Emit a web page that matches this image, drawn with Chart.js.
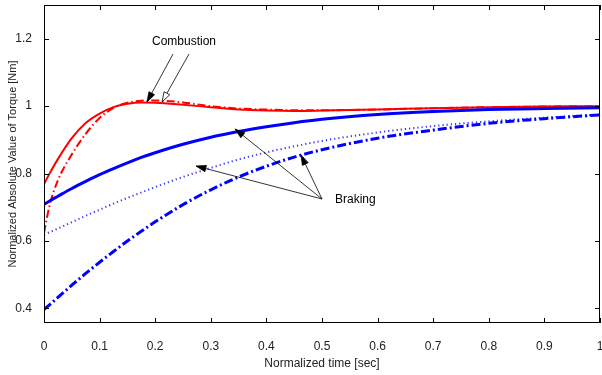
<!DOCTYPE html>
<html>
<head>
<meta charset="utf-8">
<script src="https://cdn.jsdelivr.net/npm/chart.js@4.4.0/dist/chart.umd.min.js"></script>
<style>
    html, body { margin: 0; padding: 0; background: #fff; }
    #wrap { width: 602px; height: 375px; }
</style>
</head>
<body>
<div id="wrap"><canvas id="torque-chart" width="602" height="375"></canvas></div>
<script>
// Normalized time samples
const timeVals = [0, 0.01, 0.025, 0.05, 0.075, 0.1, 0.125, 0.15, 0.175, 0.2, 0.25, 0.3, 0.35, 0.4, 0.45, 0.5, 0.6, 0.7, 0.8, 0.9, 1.0];

// Combustion curves (red)
const combSolid  = [0.769, 0.8, 0.843, 0.905, 0.95, 0.978, 0.997, 1.007, 1.011, 1.01, 1.004, 0.997, 0.99, 0.987, 0.986, 0.987, 0.99, 0.994, 0.997, 0.999, 1.0];
const combDashed = [0.624, 0.705, 0.78, 0.857, 0.918, 0.965, 0.995, 1.01, 1.016, 1.017, 1.011, 1.0, 0.993, 0.99, 0.988, 0.988, 0.99, 0.994, 0.997, 0.999, 1.0];

// Braking curves (blue)
const brakeSolid   = [0.709, 0.719, 0.733, 0.756, 0.777, 0.797, 0.815, 0.832, 0.848, 0.862, 0.887, 0.908, 0.925, 0.939, 0.951, 0.961, 0.975, 0.984, 0.99, 0.993, 0.995];
const brakeDotted  = [0.619, 0.626, 0.637, 0.656, 0.675, 0.693, 0.711, 0.728, 0.744, 0.76, 0.79, 0.817, 0.842, 0.863, 0.881, 0.897, 0.922, 0.941, 0.955, 0.966, 0.975];
const brakeDashDot = [0.397, 0.411, 0.433, 0.469, 0.504, 0.537, 0.569, 0.6, 0.629, 0.657, 0.708, 0.752, 0.79, 0.822, 0.849, 0.871, 0.905, 0.929, 0.949, 0.963, 0.974];

// Tick labels
const xTicks = [0, 0.1, 0.2, 0.3, 0.4, 0.5, 0.6, 0.7, 0.8, 0.9, 1];
const yTicks = [0.4, 0.6, 0.8, 1, 1.2];

const FONT = "'Liberation Sans', Arial, Helvetica, sans-serif";

function toPoints(ys) {
    return timeVals.map((t, i) => ({ x: t, y: ys[i] }));
}

// no automatic label padding, the layout is fixed
function noScalePadding(scale) {
    scale.paddingLeft = 0;
    scale.paddingRight = 0;
    scale.paddingTop = 0;
    scale.paddingBottom = 0;
}

// draws a line with an arrow head at (x2, y2)
function arrow(ctx, x1, y1, x2, y2, open) {
    const ang = Math.atan2(y2 - y1, x2 - x1);
    const len = 10, half = 3.2;
    const bx = x2 - len * Math.cos(ang), by = y2 - len * Math.sin(ang);
    ctx.beginPath();
    ctx.moveTo(x1, y1);
    ctx.lineTo(open ? bx : x2 - 2 * Math.cos(ang), open ? by : y2 - 2 * Math.sin(ang));
    ctx.stroke();
    ctx.beginPath();
    ctx.moveTo(x2, y2);
    ctx.lineTo(bx + half * Math.sin(ang), by - half * Math.cos(ang));
    ctx.lineTo(bx - half * Math.sin(ang), by + half * Math.cos(ang));
    ctx.closePath();
    ctx.fillStyle = open ? "#fff" : "#000";
    ctx.fill();
    ctx.stroke();
}

// Frame, inward ticks and the text arrows
const framePlugin = {
    id: "frame",
    afterDatasetsDraw(chart) {
        const ctx = chart.ctx;
        const a = chart.chartArea;
        const xs = chart.scales.x, ys = chart.scales.y;
        ctx.save();
        ctx.strokeStyle = "#000";
        ctx.lineWidth = 1;
        ctx.strokeRect(a.left + 0.5, a.top + 0.5, a.right - a.left - 1, a.bottom - a.top - 1);
        ctx.beginPath();
        xTicks.forEach(v => {
            const px = Math.round(xs.getPixelForValue(v)) + 0.5;
            ctx.moveTo(px, a.bottom); ctx.lineTo(px, a.bottom - 5);
            ctx.moveTo(px, a.top); ctx.lineTo(px, a.top + 5);
        });
        yTicks.forEach(v => {
            const py = Math.round(ys.getPixelForValue(v)) + 0.5;
            ctx.moveTo(a.left, py); ctx.lineTo(a.left + 5, py);
            ctx.moveTo(a.right, py); ctx.lineTo(a.right - 5, py);
        });
        ctx.stroke();

        // annotations
        ctx.fillStyle = "#000";
        ctx.font = "12px " + FONT;
        ctx.textAlign = "left";
        ctx.textBaseline = "middle";
        ctx.fillText("Combustion", 152, 42);
        ctx.fillText("Braking", 335, 200);
        ctx.lineWidth = 0.8;
        arrow(ctx, 173, 54, 147, 102, false);
        arrow(ctx, 189, 54, 162, 102, true);
        arrow(ctx, 322, 199, 235, 129, false);
        arrow(ctx, 322, 199, 301, 155, false);
        arrow(ctx, 322, 199, 196, 166, false);
        ctx.restore();
    }
};

const ctx = document.getElementById("torque-chart").getContext("2d");
const torqueChart = new Chart(ctx, {
    type: "line",
    data: {
        datasets: [
            {
                label: "Braking dash-dot",
                data: toPoints(brakeDashDot),
                borderColor: "#0000ff",
                borderWidth: 3,
                borderDash: [9, 3, 2, 3],
            },
            {
                label: "Braking dotted",
                data: toPoints(brakeDotted),
                borderColor: "#3535ff",
                borderWidth: 2,
                borderDash: [1.2, 3],
            },
            {
                label: "Braking solid",
                data: toPoints(brakeSolid),
                borderColor: "#0000ff",
                borderWidth: 3,
            },
            {
                label: "Combustion dashed",
                data: toPoints(combDashed),
                borderColor: "#ff0000",
                borderWidth: 2,
                borderDash: [8, 3, 1.5, 3],
            },
            {
                label: "Combustion solid",
                data: toPoints(combSolid),
                borderColor: "#ff0000",
                borderWidth: 2,
            },
        ],
    },
    options: {
        responsive: false,
        animation: false,
        parsing: false,
        elements: {
            point: { radius: 0 },
            line: { cubicInterpolationMode: "monotone", fill: false },
        },
        layout: { padding: { top: 5, right: 2, left: 0, bottom: 0 } },
        plugins: {
            legend: { display: false },
            tooltip: { enabled: false },
        },
        scales: {
            x: {
                type: "linear",
                min: 0,
                max: 1,
                grid: { display: false },
                border: { display: false },
                afterBuildTicks: scale => { scale.ticks = xTicks.map(v => ({ value: v })); },
                afterFit: scale => { scale.height = 52; noScalePadding(scale); },
                ticks: {
                    padding: 8,
                    color: "#222",
                    font: { family: FONT, size: 12 },
                    maxRotation: 0,
                    callback: v => String(v),
                },
                title: {
                    display: true,
                    text: "Normalized time [sec]",
                    color: "#222",
                    font: { family: FONT, size: 12 },
                    padding: { top: 0, bottom: 4 },
                },
            },
            y: {
                min: 0.357,
                max: 1.3,
                grid: { display: false },
                border: { display: false },
                afterBuildTicks: scale => { scale.ticks = yTicks.map(v => ({ value: v })); },
                afterFit: scale => { scale.width = 44; noScalePadding(scale); },
                ticks: {
                    padding: 4,
                    color: "#222",
                    font: { family: FONT, size: 12 },
                    callback: v => String(v),
                },
                title: {
                    display: true,
                    text: "Normalized Absolute Value of Torque [Nm]",
                    color: "#222",
                    font: { family: FONT, size: 11 },
                    padding: { top: 6, bottom: 0 },
                },
            },
        },
    },
    plugins: [framePlugin],
});
</script>
</body>
</html>
